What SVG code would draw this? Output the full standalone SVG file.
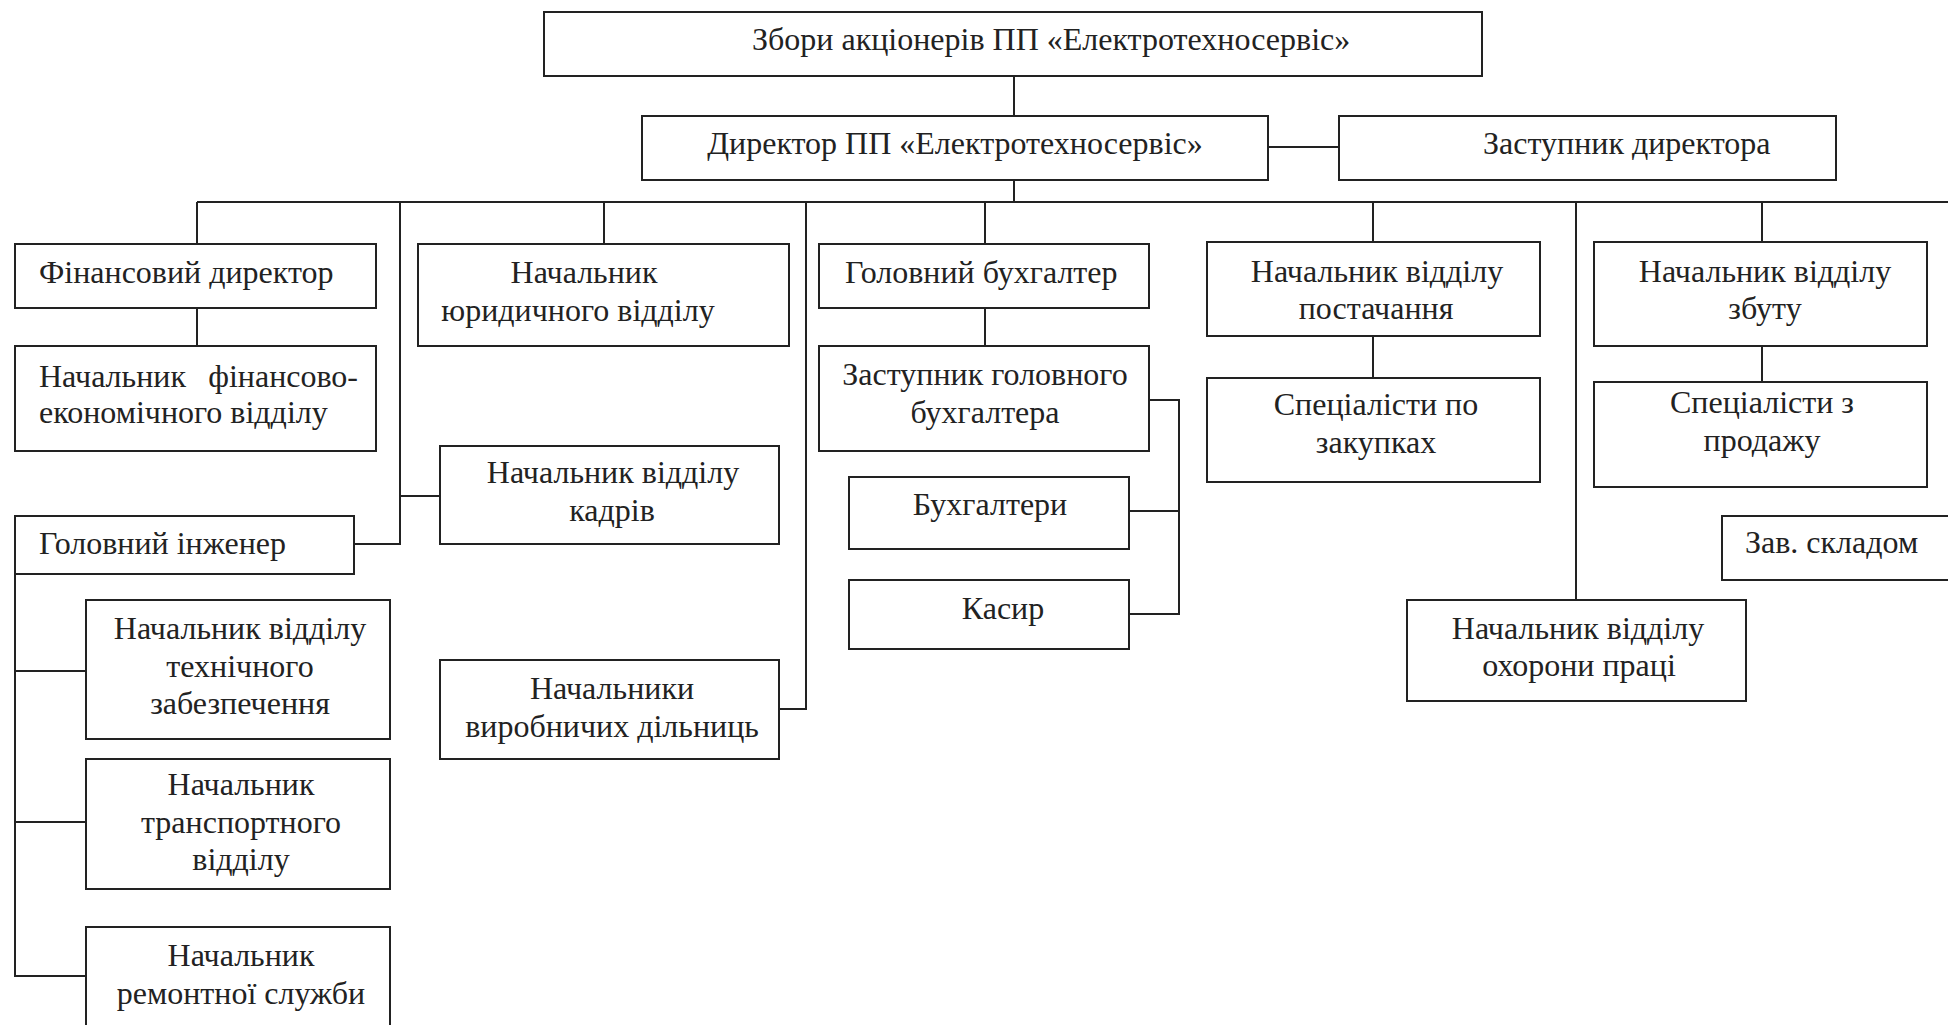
<svg xmlns="http://www.w3.org/2000/svg" width="1948" height="1025" viewBox="0 0 1948 1025">
<style>
.n rect{fill:#fff;stroke:#222;stroke-width:2}
.c line,.c path{stroke:#222;stroke-width:2;fill:none}
text{font-family:"Liberation Serif","Times New Roman",serif;font-size:32px;fill:#222}
.m{text-anchor:middle}
.e{text-anchor:end}
</style>
<rect width="1948" height="1025" fill="#fff"/>
<g class="c" id="connectors">
<line x1="1014" y1="76" x2="1014" y2="116"/>
<line x1="1268" y1="147" x2="1339" y2="147"/>
<line x1="1014" y1="180" x2="1014" y2="202"/>
<line x1="197" y1="202" x2="1948" y2="202"/>
<line x1="197" y1="202" x2="197" y2="244"/>
<line x1="604" y1="202" x2="604" y2="244"/>
<line x1="985" y1="202" x2="985" y2="244"/>
<line x1="1373" y1="202" x2="1373" y2="242"/>
<line x1="1762" y1="202" x2="1762" y2="242"/>
<line x1="197" y1="308" x2="197" y2="346"/>
<line x1="985" y1="308" x2="985" y2="346"/>
<line x1="1373" y1="336" x2="1373" y2="378"/>
<line x1="1762" y1="346" x2="1762" y2="382"/>
<path d="M400 202 V544 H354"/>
<line x1="400" y1="496" x2="440" y2="496"/>
<path d="M806 202 V709 H779"/>
<line x1="1576" y1="202" x2="1576" y2="600"/>
<path d="M1149 400 H1179 V614 H1129"/>
<line x1="1129" y1="511" x2="1179" y2="511"/>
<path d="M15 574 V976 H86"/>
<line x1="15" y1="671" x2="86" y2="671"/>
<line x1="15" y1="822" x2="86" y2="822"/>
</g>
<g class="n" id="n-zbory"><rect x="544" y="12" width="938" height="64"/><text x="752" y="50">Збори акціонерів ПП «Електротехносервіс»</text></g>
<g class="n" id="n-dyrektor"><rect x="642" y="116" width="626" height="64"/><text class="m" x="955" y="154">Директор ПП «Електротехносервіс»</text></g>
<g class="n" id="n-zastupnyk"><rect x="1339" y="116" width="497" height="64"/><text x="1483" y="154">Заступник директора</text></g>
<g class="n" id="n-findyr"><rect x="15" y="244" width="361" height="64"/><text x="39" y="283">Фінансовий директор</text></g>
<g class="n" id="n-finek"><rect x="15" y="346" width="361" height="105"/><text x="39" y="387">Начальник</text><text class="e" x="358" y="387">фінансово-</text><text x="39" y="423">економічного відділу</text></g>
<g class="n" id="n-yur"><rect x="418" y="244" width="371" height="102"/><text class="m" x="584" y="283">Начальник</text><text class="m" x="578" y="321">юридичного відділу</text></g>
<g class="n" id="n-kadry"><rect x="440" y="446" width="339" height="98"/><text class="m" x="613" y="483">Начальник відділу</text><text class="m" x="612" y="521">кадрів</text></g>
<g class="n" id="n-inzh"><rect x="15" y="516" width="339" height="58"/><text x="39" y="554">Головний інженер</text></g>
<g class="n" id="n-tekh"><rect x="86" y="600" width="304" height="139"/><text class="m" x="240" y="639">Начальник відділу</text><text class="m" x="240" y="677">технічного</text><text class="m" x="240" y="714">забезпечення</text></g>
<g class="n" id="n-transp"><rect x="86" y="759" width="304" height="130"/><text class="m" x="241" y="795">Начальник</text><text class="m" x="241" y="833">транспортного</text><text class="m" x="241" y="870">відділу</text></g>
<g class="n" id="n-remont"><rect x="86" y="927" width="304" height="110"/><text class="m" x="241" y="966">Начальник</text><text class="m" x="241" y="1004">ремонтної служби</text></g>
<g class="n" id="n-vyrob"><rect x="440" y="660" width="339" height="99"/><text class="m" x="612" y="699">Начальники</text><text class="m" x="612" y="737">виробничих дільниць</text></g>
<g class="n" id="n-golbukh"><rect x="819" y="244" width="330" height="64"/><text x="845" y="283">Головний бухгалтер</text></g>
<g class="n" id="n-zastbukh"><rect x="819" y="346" width="330" height="105"/><text class="m" x="985" y="385">Заступник головного</text><text class="m" x="985" y="423">бухгалтера</text></g>
<g class="n" id="n-bukh"><rect x="849" y="477" width="280" height="72"/><text class="m" x="990" y="515">Бухгалтери</text></g>
<g class="n" id="n-kasyr"><rect x="849" y="580" width="280" height="69"/><text class="m" x="1003" y="619">Касир</text></g>
<g class="n" id="n-postach"><rect x="1207" y="242" width="333" height="94"/><text class="m" x="1377" y="282">Начальник відділу</text><text class="m" x="1376" y="319">постачання</text></g>
<g class="n" id="n-zakup"><rect x="1207" y="378" width="333" height="104"/><text class="m" x="1376" y="415">Спеціалісти по</text><text class="m" x="1376" y="453">закупках</text></g>
<g class="n" id="n-okhor"><rect x="1407" y="600" width="339" height="101"/><text class="m" x="1578" y="639">Начальник відділу</text><text class="m" x="1579" y="676">охорони праці</text></g>
<g class="n" id="n-zbut"><rect x="1594" y="242" width="333" height="104"/><text class="m" x="1765" y="282">Начальник відділу</text><text class="m" x="1765" y="319">збуту</text></g>
<g class="n" id="n-prodazh"><rect x="1594" y="382" width="333" height="105"/><text class="m" x="1762" y="413">Спеціалісти з</text><text class="m" x="1762" y="451">продажу</text></g>
<g class="n" id="n-sklad"><rect x="1722" y="516" width="240" height="64"/><text x="1745" y="553">Зав. складом</text></g>
</svg>
